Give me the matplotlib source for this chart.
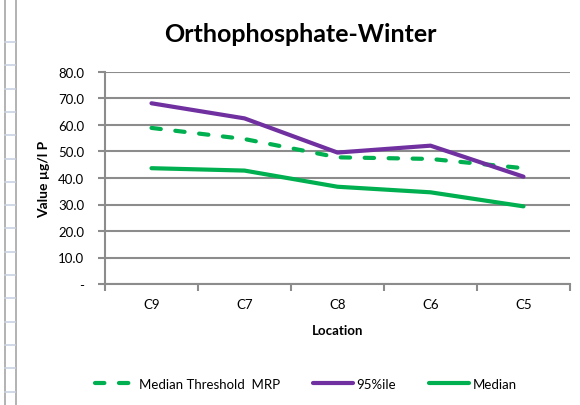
import matplotlib
matplotlib.use("Agg")
import matplotlib.pyplot as plt
from matplotlib.lines import Line2D
from matplotlib.ticker import FixedLocator, FuncFormatter

locations = ["C9", "C7", "C8", "C6", "C5"]
median_threshold_mrp = [58.9, 54.7, 47.8, 47.2, 43.7]
pct95 = [68.2, 62.5, 49.6, 52.2, 40.5]
median = [43.7, 42.8, 36.7, 34.6, 29.3]
y_ticks = [0, 10, 20, 30, 40, 50, 60, 70, 80]

FONT = "Lato"
GREEN = "#00B050"
PURPLE = "#7030A0"
GRID = "#8c8c8c"

fig = plt.figure(figsize=(5.8, 4.06), dpi=100)
fig.patch.set_facecolor("white")

# page ruler strip on the left edge
fig.add_artist(Line2D([4.5 / 580, 4.5 / 580], [0, 1], color="#a6a6a6", lw=1.2))
fig.add_artist(Line2D([15.5 / 580, 15.5 / 580], [0, 1], color="#a6a6a6", lw=1.2))
for k in range(17):
    yy = 43 + k * 23.3
    fig.add_artist(Line2D([5 / 580, 15 / 580], [1 - yy / 406, 1 - yy / 406],
                          color="#c9d3e3", lw=1.2))

ax = fig.add_axes([105 / 580, 1 - 285 / 406, 465 / 580, 212 / 406])
x = list(range(len(locations)))

ax.plot(x, median_threshold_mrp, color=GREEN, lw=3, dashes=(2.25, 3.5),
        dash_capstyle="round", label="Median Threshold  MRP", zorder=3)
ax.plot(x, pct95, color=PURPLE, lw=3, solid_capstyle="round", label="95%ile", zorder=4)
ax.plot(x, median, color=GREEN, lw=3, solid_capstyle="round", label="Median", zorder=3)

ax.set_xlim(-0.5, len(locations) - 0.5)
ax.set_ylim(0, 80)
ax.set_yticks(y_ticks)
ax.yaxis.set_major_formatter(FuncFormatter(lambda v, p: "-" if v == 0 else f"{v:.1f}"))
ax.grid(axis="y", color=GRID, lw=1.5)
ax.set_axisbelow(True)

ax.xaxis.set_major_locator(FixedLocator([i - 0.5 for i in range(len(locations) + 1)]))
ax.xaxis.set_major_formatter(FuncFormatter(lambda v, p: ""))
ax.set_xticks(x, minor=True)
ax.set_xticklabels(locations, minor=True, fontfamily=FONT, fontsize=9.5)
ax.tick_params(axis="x", which="minor", length=0, pad=10)
ax.tick_params(axis="x", which="major", length=5, width=1.5, color=GRID, direction="out")
ax.tick_params(axis="y", length=5, width=1.5, color=GRID, direction="out", pad=10)
for lab in ax.get_yticklabels():
    lab.set_fontfamily(FONT)
    lab.set_fontsize(9.5)

for side in ("top", "right"):
    ax.spines[side].set_visible(False)
for side in ("left", "bottom"):
    ax.spines[side].set_color(GRID)
    ax.spines[side].set_linewidth(1.5)

ax.set_xlabel("Location", fontfamily=FONT, fontweight="bold", fontsize=9.5, labelpad=10)
ax.set_ylabel("Value µg/l P", fontfamily=FONT, fontweight="bold", fontsize=10, labelpad=6)

fig.text(300 / 580, 1 - 35 / 406, "Orthophosphate-Winter", ha="center", va="center",
         fontfamily=FONT, fontweight="bold", fontsize=18)

fig.legend(loc="center", bbox_to_anchor=(306 / 580, 1 - 385 / 406), ncol=3,
           frameon=False, prop={"family": FONT, "size": 9.5}, handlelength=3.0,
           handletextpad=0.3, columnspacing=2.5)

fig.savefig("out.png", dpi=100)
